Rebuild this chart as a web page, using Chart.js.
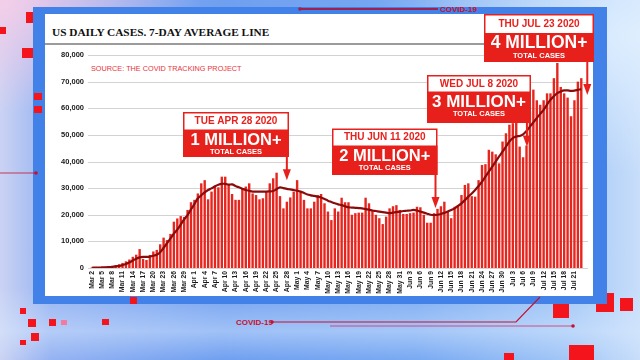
<!DOCTYPE html>
<html>
<head>
<meta charset="utf-8">
<script src="https://cdn.jsdelivr.net/npm/chart.js@4.4.0/dist/chart.umd.min.js"></script>
<style>
  html, body { margin: 0; padding: 0; width: 640px; height: 360px; overflow: hidden; }
  body {
    position: relative;
    background:
      radial-gradient(ellipse at 0% 0%, rgba(246, 205, 232, 0.95) 0%, rgba(246, 205, 232, 0) 22%),
      radial-gradient(ellipse at 100% 10%, rgba(225, 240, 255, 0.9) 0%, rgba(225, 240, 255, 0) 30%),
      linear-gradient(180deg, rgba(255, 255, 255, 0) 80%, rgba(220, 235, 255, 0.45) 92%, rgba(255, 255, 255, 0) 100%),
      linear-gradient(90deg, #cbd3f3 0%, #94b2f2 8%, #6f9ff0 35%, #78a9f2 65%, #a4c8f7 90%, #c8defa 100%);
  }
  .sq { position: absolute; background: #f3141c; }
  #frame { position: absolute; left: 33px; top: 7px; width: 574px; height: 297px; background: #4282e8; }
  #panel { position: absolute; left: 45px; top: 14px; width: 548px; height: 282px; background: #fff; }
  #title { position: absolute; left: 52px; top: 27px; font: bold 11.3px "Liberation Serif", serif; color: #111; line-height: 1; white-space: nowrap; }
  #rule { position: absolute; left: 45px; top: 43px; width: 548px; height: 2px; background: #9b9b9b; }
  #source { position: absolute; left: 91px; top: 65px; font: 7.3px "Liberation Sans", sans-serif; color: #e8333a; line-height: 1; white-space: nowrap; }
  #deco { position: absolute; left: 0; top: 0; }
  #c { position: absolute; left: 0; top: 0; }
</style>
</head>
<body>
<div class="sq" style="left:26px;top:12px;width:12px;height:11px"></div>
<div class="sq" style="left:0px;top:27px;width:6px;height:7px"></div>
<div class="sq" style="left:22px;top:48px;width:11px;height:10px"></div>
<div class="sq" style="left:20px;top:308px;width:6px;height:6px"></div>
<div class="sq" style="left:28px;top:319px;width:8px;height:8px"></div>
<div class="sq" style="left:49px;top:319px;width:7px;height:7px"></div>
<div class="sq" style="left:61px;top:320px;width:6px;height:5px;background:#f07aa0"></div>
<div class="sq" style="left:102px;top:319px;width:7px;height:6px"></div>
<div class="sq" style="left:31px;top:333px;width:8px;height:8px"></div>
<div class="sq" style="left:20px;top:340px;width:6px;height:5px"></div>
<div class="sq" style="left:553px;top:303px;width:16px;height:15px"></div>
<div class="sq" style="left:596px;top:293px;width:18px;height:19px"></div>
<div class="sq" style="left:620px;top:298px;width:13px;height:13px"></div>
<div class="sq" style="left:569px;top:345px;width:25px;height:15px"></div>
<div class="sq" style="left:504px;top:353px;width:10px;height:7px"></div>
<div id="frame"></div>
<div class="sq" style="left:34px;top:93px;width:8px;height:7px"></div>
<div class="sq" style="left:34px;top:106px;width:8px;height:7px"></div>
<div class="sq" style="left:130px;top:297px;width:7px;height:7px"></div>
<div id="panel"></div>
<div id="rule"></div>
<div id="title">US DAILY CASES. 7-DAY AVERAGE LINE</div>
<div id="source">SOURCE: THE COVID TRACKING PROJECT</div>
<svg id="deco" width="640" height="360">
  <line x1="300" y1="9" x2="438" y2="9" stroke="#a3204a" stroke-width="2"/>
  <circle cx="300" cy="9" r="1.8" fill="#a3204a"/>
  <text x="440" y="12" font-family="Liberation Sans" font-weight="bold" font-size="8" fill="#c8102e">COVID-19</text>
  <text x="236" y="325" font-family="Liberation Sans" font-weight="bold" font-size="8" fill="#c8102e">COVID-19</text>
  <circle cx="272" cy="322" r="1.8" fill="#c8102e"/>
  <polyline points="272,322 516,322 540,297" fill="none" stroke="#c8102e" stroke-width="1.2"/>
  <line x1="330" y1="326" x2="573" y2="326" stroke="#d0306a" stroke-width="0.8"/>
  <circle cx="573" cy="326" r="1.8" fill="#c8102e"/>
  <line x1="0" y1="173" x2="36" y2="173" stroke="#c8102e" stroke-width="0.8"/>
  <circle cx="36" cy="173" r="1.8" fill="#c8102e"/>
</svg>
<canvas id="c" width="640" height="360"></canvas>
<script>
"use strict";
var DAYS = [
  "Mar 2","Mar 3","Mar 4","Mar 5","Mar 6","Mar 7","Mar 8","Mar 9","Mar 10","Mar 11",
  "Mar 12","Mar 13","Mar 14","Mar 15","Mar 16","Mar 17","Mar 18","Mar 19","Mar 20","Mar 21",
  "Mar 22","Mar 23","Mar 24","Mar 25","Mar 26","Mar 27","Mar 28","Mar 29","Mar 30","Mar 31",
  "Apr 1","Apr 2","Apr 3","Apr 4","Apr 5","Apr 6","Apr 7","Apr 8","Apr 9","Apr 10",
  "Apr 11","Apr 12","Apr 13","Apr 14","Apr 15","Apr 16","Apr 17","Apr 18","Apr 19","Apr 20",
  "Apr 21","Apr 22","Apr 23","Apr 24","Apr 25","Apr 26","Apr 27","Apr 28","Apr 29","Apr 30",
  "May 1","May 2","May 3","May 4","May 5","May 6","May 7","May 8","May 9","May 10",
  "May 11","May 12","May 13","May 14","May 15","May 16","May 17","May 18","May 19","May 20",
  "May 21","May 22","May 23","May 24","May 25","May 26","May 27","May 28","May 29","May 30",
  "May 31","Jun 1","Jun 2","Jun 3","Jun 4","Jun 5","Jun 6","Jun 7","Jun 8","Jun 9",
  "Jun 10","Jun 11","Jun 12","Jun 13","Jun 14","Jun 15","Jun 16","Jun 17","Jun 18","Jun 19",
  "Jun 20","Jun 21","Jun 22","Jun 23","Jun 24","Jun 25","Jun 26","Jun 27","Jun 28","Jun 29",
  "Jun 30","Jul 1","Jul 2","Jul 3","Jul 4","Jul 5","Jul 6","Jul 7","Jul 8","Jul 9",
  "Jul 10","Jul 11","Jul 12","Jul 13","Jul 14","Jul 15","Jul 16","Jul 17","Jul 18","Jul 19",
  "Jul 20","Jul 21","Jul 22","Jul 23"
];
var DAILY_CASES = [
  150, 200, 250, 350, 450, 600, 800, 1100, 1400, 1900,
  2500, 3200, 4200, 5000, 7100, 3400, 3000, 4900, 6200, 6800,
  8900, 11400, 10500, 12800, 17400, 18600, 19500, 19200, 21800, 24700,
  25600, 28000, 31800, 33000, 25800, 28700, 30600, 30300, 34300, 34300,
  31200, 27800, 25600, 25600, 30000, 30600, 31800, 28000, 27400, 25800,
  26200, 28700, 31800, 33700, 35800, 27000, 22400, 24900, 26500, 28700,
  33000, 28700, 25600, 22400, 22400, 24900, 27400, 27800, 24300, 21200,
  18000, 22400, 21200, 26400, 24700, 24700, 20000, 20600, 20800, 20800,
  26400, 24300, 21400, 20000, 18700, 16500, 19300, 22400, 23200, 23600,
  21800, 20300, 20300, 20600, 20800, 23000, 22800, 20000, 17000, 17000,
  20600, 22200, 23200, 24900, 21400, 18700, 23000, 23600, 27400, 31200,
  31800, 27000, 26800, 33000, 38700, 39000, 44400, 43700, 42700, 39300,
  47500, 50600, 53800, 54400, 55000, 45600, 41600, 46000, 58800, 67000,
  63000, 61300, 63000, 65600, 65600, 71300, 77000, 68000, 65600, 64000,
  57000, 63000, 70000, 71300
];
var AVG_7DAY = [
  100, 120, 150, 200, 260, 340, 450, 600, 800, 1100,
  1500, 2100, 2800, 3500, 4000, 4200, 4200, 4300, 4600, 5000,
  5900, 7600, 9300, 11100, 12900, 14400, 16300, 18300, 19900, 22000,
  24000, 26200, 27300, 28400, 29300, 29900, 30700, 31300, 31600, 31600,
  31300, 31400, 30800, 30300, 29800, 29300, 29000, 28700, 28700, 28700,
  28700, 28700, 28800, 28900, 29600, 30300, 30000, 29700, 29500, 29300,
  29000, 28700, 28200, 27600, 27300, 27100, 26800, 26500, 25900, 25300,
  24800, 24300, 23900, 23600, 23200, 22800, 22700, 22600, 22500, 22400,
  22100, 21900, 21600, 21400, 21200, 21000, 20800, 20600, 20800, 21000,
  21200, 21400, 21500, 21600, 21800, 21600, 21200, 20800, 20400, 20000,
  19900, 20000, 20300, 20700, 21200, 21800, 22400, 23300, 24300, 25500,
  26800, 28000, 29300, 30800, 32400, 34300, 36200, 38100, 40000, 41900,
  43700, 45600, 47500, 48800, 49400, 49600, 50200, 51500, 53100, 54700,
  56300, 57900, 59400, 61400, 63200, 64500, 65700, 66300, 66700, 66700,
  66500, 66600, 66900, 67200
];
var X_TICKS = [
  "Mar 2","Mar 5","Mar 8","Mar 11","Mar 14","Mar 17","Mar 20","Mar 23","Mar 26","Mar 29",
  "Apr 1","Apr 4","Apr 7","Apr 10","Apr 13","Apr 16","Apr 19","Apr 22","Apr 25","Apr 28",
  "May 1","May 4","May 7","May 10","May 13","May 16","May 19","May 22","May 25","May 28","May 31",
  "Jun 3","Jun 6","Jun 9","Jun 12","Jun 15","Jun 18","Jun 21","Jun 24","Jun 27","Jun 30",
  "Jul 3","Jul 6","Jul 9","Jul 12","Jul 15","Jul 18","Jul 21"
];
var Y_TICKS = [0, 10000, 20000, 30000, 40000, 50000, 60000, 70000, 80000];

// milestone call-outs: the arrow points at the day, the box sits above it
var MILESTONE_DAYS = ["Apr 28", "Jun 11", "Jul 8", "Jul 23"];
var MILESTONE_DATES = ["TUE APR 28 2020", "THU JUN 11 2020", "WED JUL 8 2020", "THU JUL 23 2020"];
var MILESTONE_TEXT = ["1 MILLION+", "2 MILLION+", "3 MILLION+", "4 MILLION+"];
var MILESTONE_TIPS = [33000, 22500, 45500, 65000];

var RED = "#e8201c";
var boxes = [
  { left: 183, top: 112, width: 106, whiteH: 17.5, redH: 27.5, dx: 0, big: 16.5 },
  { left: 332, top: 128.5, width: 105.5, whiteH: 17, redH: 29.5, dx: -2, big: 16.5 },
  { left: 427, top: 75, width: 104, whiteH: 16.5, redH: 31.5, dx: -3, big: 17 },
  { left: 484, top: 14, width: 110, whiteH: 19, redH: 29, dx: 6, big: 17.5 }
];

var gridLines = {
  id: "gridLines",
  beforeDatasetsDraw: function (chart) {
    var ctx = chart.ctx, y = chart.scales.y, area = chart.chartArea;
    ctx.save();
    ctx.strokeStyle = "#d3d3d3";
    ctx.lineWidth = 1;
    Y_TICKS.forEach(function (v) {
      var py = Math.round(y.getPixelForValue(v)) + 0.5;
      ctx.beginPath();
      ctx.moveTo(area.left - 2, py);
      ctx.lineTo(area.right + 5, py);
      ctx.stroke();
    });
    ctx.restore();
  }
};

var callouts = {
  id: "callouts",
  afterDatasetsDraw: function (chart) {
    var ctx = chart.ctx, x = chart.scales.x, y = chart.scales.y;
    ctx.save();
    boxes.forEach(function (b, i) {
      var bottom = b.top + b.whiteH + b.redH;
      var cx = b.left + b.width / 2;
      ctx.fillStyle = "#fff";
      ctx.fillRect(b.left, b.top, b.width, b.whiteH);
      ctx.fillStyle = RED;
      ctx.fillRect(b.left, b.top + b.whiteH, b.width, b.redH);
      ctx.strokeStyle = RED;
      ctx.lineWidth = 1.5;
      ctx.strokeRect(b.left + 0.75, b.top + 0.75, b.width - 1.5, b.whiteH + b.redH - 1.5);
      ctx.textAlign = "center";
      ctx.textBaseline = "middle";
      ctx.fillStyle = RED;
      ctx.font = "bold 10px 'Liberation Sans', sans-serif";
      ctx.fillText(MILESTONE_DATES[i], cx, b.top + b.whiteH / 2 + 0.5);
      ctx.fillStyle = "#fff";
      ctx.font = "bold " + b.big + "px 'Liberation Sans', sans-serif";
      ctx.fillText(MILESTONE_TEXT[i], cx, b.top + b.whiteH + 10.5);
      ctx.font = "bold 7.5px 'Liberation Sans', sans-serif";
      ctx.fillText("TOTAL CASES", cx, b.top + b.whiteH + 22.5);
      // arrow down to the milestone day
      var ax = x.getPixelForValue(DAYS.indexOf(MILESTONE_DAYS[i])) + b.dx;
      var tip = y.getPixelForValue(MILESTONE_TIPS[i]);
      ctx.strokeStyle = RED;
      ctx.lineWidth = 2;
      ctx.beginPath();
      ctx.moveTo(ax, bottom);
      ctx.lineTo(ax, tip - 9);
      ctx.stroke();
      ctx.fillStyle = RED;
      ctx.beginPath();
      ctx.moveTo(ax - 4, tip - 11);
      ctx.lineTo(ax + 4, tip - 11);
      ctx.lineTo(ax, tip);
      ctx.closePath();
      ctx.fill();
    });
    ctx.restore();
  }
};

new Chart(document.getElementById("c"), {
  data: {
    labels: DAYS,
    datasets: [
      {
        type: "line",
        data: AVG_7DAY,
        borderColor: "#8a0b0b",
        borderWidth: 2.2,
        pointRadius: 0,
        tension: 0.35,
        order: 0
      },
      {
        type: "bar",
        data: DAILY_CASES,
        backgroundColor: "#e6261e",
        barPercentage: 0.7,
        categoryPercentage: 1,
        order: 1
      }
    ]
  },
  options: {
    responsive: false,
    animation: false,
    layout: { padding: { top: 55, right: 57, left: 0, bottom: 0 } },
    plugins: { legend: { display: false }, tooltip: { enabled: false } },
    scales: {
      x: {
        grid: { display: false, drawTicks: false },
        border: { display: false },
        ticks: {
          autoSkip: false,
          maxRotation: 90,
          minRotation: 90,
          padding: 3,
          color: "#1a1a1a",
          font: { family: "'Liberation Sans', sans-serif", size: 6.8, weight: "bold" },
          callback: function (v, i) { return X_TICKS.indexOf(DAYS[i]) >= 0 ? DAYS[i] : ""; }
        },
        afterFit: function (s) { s.height = 92; }
      },
      y: {
        min: 0,
        max: 80000,
        grid: { display: false, drawTicks: false },
        border: { display: false },
        ticks: {
          stepSize: 10000,
          padding: 6,
          color: "#1a1a1a",
          font: { family: "'Liberation Sans', sans-serif", size: 7.5, weight: "bold" },
          callback: function (v) { return v.toLocaleString("en-US"); }
        },
        afterFit: function (s) { s.width = 90; }
      }
    }
  },
  plugins: [gridLines, callouts]
});
</script>
</body>
</html>
